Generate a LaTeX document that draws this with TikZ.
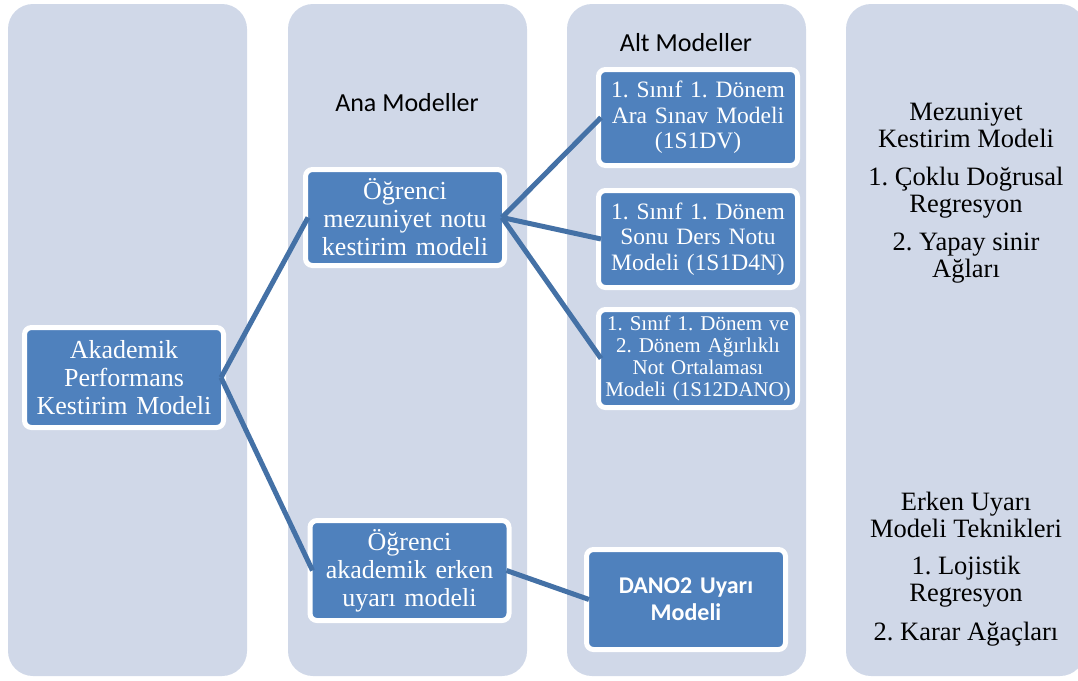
\documentclass[tikz,border=0pt]{standalone}
\usepackage{fontspec}
\setmainfont{Liberation Serif}
\newfontfamily\calibri{Carlito}
\definecolor{laneFill}{HTML}{D0D8E8}
\definecolor{boxFill}{HTML}{4F81BD}
\definecolor{linkCol}{HTML}{4471A6}
\frenchspacing
\begin{document}
\begin{tikzpicture}[x=1pt,y=-1pt,
  lane/.style={fill=laneFill, rounded corners=25pt},
  box/.style={fill=boxFill, draw=white, line width=5pt, rounded corners=7pt,
    inner sep=0pt, outer sep=-2.5pt, text=white, align=center,
    text width=192pt, minimum width=199pt, minimum height=98pt,
    font=\fontsize{26}{28}\selectfont},
  subbox/.style={box, font=\fontsize{23.5}{25.5}\selectfont},
  link/.style={draw=linkCol, line width=5pt},
  heading/.style={font=\calibri\fontsize{26}{28}\selectfont, inner sep=0pt},
  note/.style={align=center, inner sep=0pt, font=\fontsize{26.5}{27}\selectfont}
]
\useasboundingbox (0,0) rectangle (1078,680);
\clip (0,0) rectangle (1078,680);

% four background lanes
\path[lane] (8,4) rectangle (247,676);
\path[lane] (288,4) rectangle (527,676);
\path[lane] (567,4) rectangle (806,676);
\path[lane] (846,4) rectangle (1085,676);

% lane headings
\node[heading] (hAna) at (407,103) {Ana Modeller};
\node[heading] (hAlt) at (686,43) {Alt Modeller};

% model boxes
\node[box, minimum height=100pt] (ak) at (124,377.5) {Akademik\\Performans\\Kestirim Modeli};
\node[box, minimum height=96pt] (mez) at (405,217.5) {Öğrenci\\mezuniyet notu\\kestirim modeli};
\node[box, minimum height=100pt] (erk) at (409.5,570.5) {Öğrenci\\akademik erken\\uyarı modeli};
\node[box, minimum height=100pt, font=\calibri\bfseries\fontsize{24}{27}\selectfont] (dano) at (686,599.5) {DANO2 Uyarı\\Modeli};
\node[subbox, minimum height=96pt] (s1) at (698,117.5) {1. Sınıf 1. Dönem\\Ara Sınav Modeli\\(1S1DV)};
\node[subbox, minimum height=97pt] (s2) at (698,239) {1. Sınıf 1. Dönem\\Sonu Ders Notu\\Modeli (1S1D4N)};
\node[subbox, minimum height=98pt, font=\fontsize{21}{22}\selectfont] (s3) at (698,358.5) {1. Sınıf 1. Dönem ve\\2. Dönem Ağırlıklı\\Not Ortalaması\\Modeli (1S12DANO)};

% connectors
\draw[link] (ak.east) -- (mez.west);
\draw[link] (ak.east) -- (erk.west);
\draw[link] (mez.east) -- (s1.west);
\draw[link] (mez.east) -- (s2.west);
\draw[link] (mez.east) -- (s3.west);
\draw[link] (erk.east) -- (dano.west);

% technique notes
\node[note] (n1) at (966,125.5) {Mezuniyet\\Kestirim Modeli};
\node[note] (n2) at (966,192.5) {1. Çoklu Doğrusal\\Regresyon};
\node[note] (n3) at (966,258) {2. Yapay sinir\\Ağları};
\node[note] (n4) at (966,514.5) {Erken Uyarı\\Modeli Teknikleri};
\node[note] (n5) at (966,582) {1. Lojistik\\Regresyon};
\node[note] (n6) at (966,634) {2. Karar Ağaçları};
\end{tikzpicture}
\end{document}
